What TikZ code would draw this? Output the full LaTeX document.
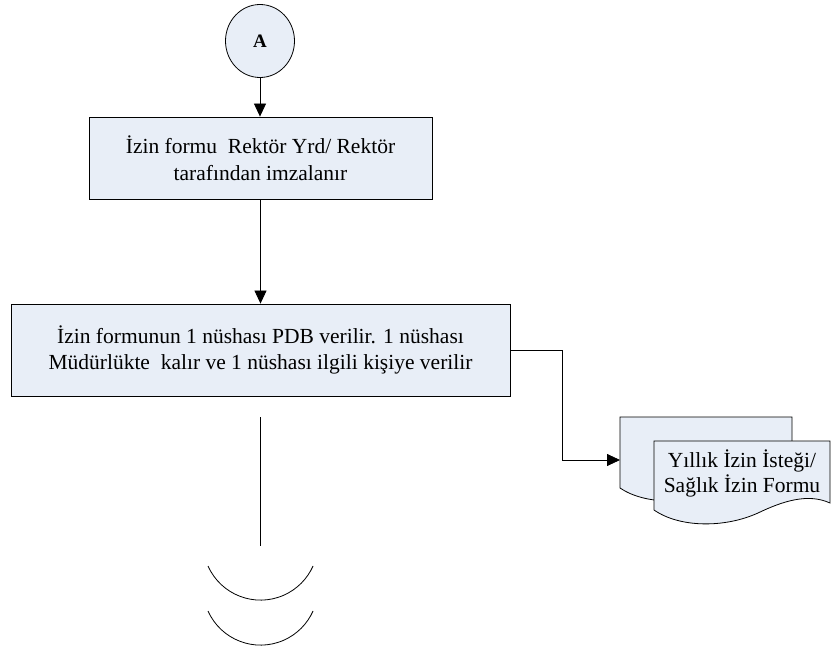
\documentclass[tikz,border=0pt]{standalone}
\usepackage{fontspec}
\setmainfont{LiberationSerif}[Extension=.ttf, UprightFont=*-Regular, BoldFont=*-Bold, ItalicFont=*-Italic, BoldItalicFont=*-BoldItalic]
\usetikzlibrary{arrows.meta,shapes.geometric}
\definecolor{boxfill}{RGB}{232,238,247}
\begin{document}
\begin{tikzpicture}[x=1pt,y=-1pt,
  every node/.style={font=\rmfamily\fontsize{21.5}{27}\selectfont},
  procbox/.style={draw=black, line width=0.8pt, fill=boxfill, inner sep=0pt, align=center},
  flow/.style={draw=black, line width=0.8pt, -{Triangle[length=13pt,width=12pt]}},
  plain/.style={draw=black, line width=0.8pt},
  docshape/.style={draw=black, line width=0.8pt, fill=boxfill},
]
\useasboundingbox (0,0) rectangle (833,655);

% off-page connector at the top
\node[ellipse, draw=black, line width=0.8pt, fill=boxfill, inner sep=0pt,
      minimum width=69pt, minimum height=73pt,
      font=\rmfamily\fontsize{19}{22}\selectfont\bfseries] (A) at (260,41) {A};

% process steps
\node[procbox, minimum width=343pt, minimum height=82pt] (b1) at (260.5,158)
  {İzin formu\ \ Rektör Yrd/ Rektör\\tarafından imzalanır};
\node[procbox, minimum width=499pt, minimum height=92pt,
      font=\rmfamily\fontsize{21.5}{26}\selectfont] (b2) at (260.5,350)
  {İzin formunun 1 nüshası PDB verilir. 1 nüshası\\Müdürlükte\ \ kalır ve 1 nüshası ilgili kişiye verilir};

% multi-document symbol
\coordinate (docin) at (620,460);
\path[docshape] (620,417) -- (792,417) -- (792,480)
  .. controls (770,470) and (745,478) .. (720,490)
  .. controls (690,505) and (645,505) .. (620,488) -- cycle;
\path[docshape] (654,441) -- (830,441) -- (830,503)
  .. controls (808,493) and (783,501) .. (758,513)
  .. controls (725,528) and (680,528) .. (654,510) -- cycle;
\node[align=center, inner sep=0pt, font=\rmfamily\fontsize{21.5}{25}\selectfont] (doc) at (742,473)
  {Yıllık İzin İsteği/\\Sağlık İzin Formu};

% connectors
\draw[flow] (A.south) -- (A.south |- b1.north);
\draw[flow] (b1.south) -- (b2.north);
\draw[flow] (b2.east) -- ++(52,0) |- (docin);

% continuation line and break marks
\coordinate (tailtop) at (260,417);
\coordinate (tailbot) at (260,546);
\coordinate (brk1) at (208,566);
\coordinate (brk2) at (208,611);
\draw[plain] (tailtop) -- (tailbot);
\draw[plain] (brk1) arc[start angle=156, end angle=24, radius=57.5];
\draw[plain] (brk2) arc[start angle=156, end angle=24, radius=57.5];
\end{tikzpicture}
\end{document}
